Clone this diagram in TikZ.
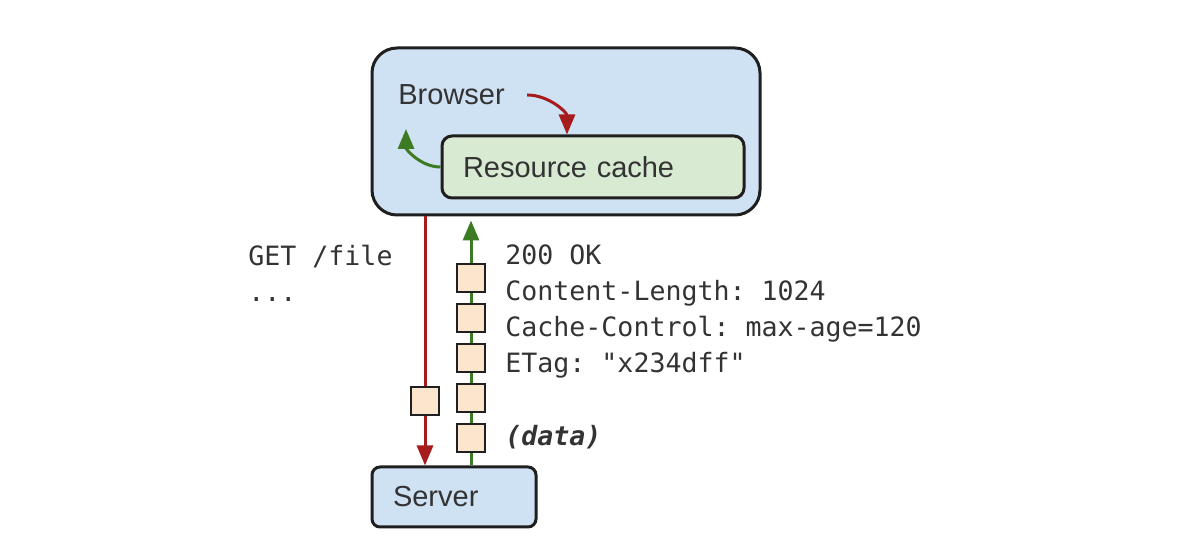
\documentclass[tikz,border=0pt]{standalone}
\usepackage{fontspec}
\setmainfont{Liberation Sans}
\setmonofont{DejaVu Sans Mono}
\usetikzlibrary{arrows.meta,positioning}
\definecolor{boxblue}{HTML}{CFE2F3}
\definecolor{boxgreen}{HTML}{D9EAD3}
\definecolor{pktfill}{HTML}{FCE5CD}
\definecolor{edge}{HTML}{1F1F1F}
\definecolor{reqred}{HTML}{A61C1C}
\definecolor{resgreen}{HTML}{3C7A24}
\definecolor{hdrtext}{HTML}{333333}

\begin{document}
\begin{tikzpicture}[x=0.5pt,y=-0.5pt,
  box/.style={draw=edge,line width=1.5pt,inner sep=0pt},
  label/.style={font=\fontsize{14.5}{17}\selectfont,text=hdrtext},
  hdr/.style={anchor=base west,inner sep=0pt,text=hdrtext,font=\ttfamily\fontsize{13.3}{16}\selectfont},
  packet/.style={draw=edge,fill=pktfill,line width=1.2pt,minimum size=14pt,inner sep=0pt},
  reqarrow/.style={draw=reqred,line width=1.5pt,-{Triangle[length=10pt,width=8pt]}},
  resarrow/.style={draw=resgreen,line width=1.5pt,-{Triangle[length=10pt,width=8pt]}}]
\useasboundingbox (0,0) rectangle (1200,560);

% boxes
\node[box,fill=boxblue,rounded corners=12.5pt,minimum width=194pt,minimum height=83.5pt] (browser) at (566,131.5) {};
\node[label,anchor=west,inner sep=0pt] (blabel) at (398,95) {Browser};
\node[box,fill=boxgreen,rounded corners=5pt,minimum height=31pt,text width=130pt,align=left,inner xsep=10.5pt,label] (cache) at (593,167) {Resource cache};
\node[box,fill=boxblue,rounded corners=4pt,minimum height=30pt,text width=61pt,align=left,inner xsep=10.5pt,label] (server) at (454,497) {Server};

% cache lookups
\draw[reqarrow] ([xshift=11pt]blabel.east) to[out=0,in=90] (cache.north -| 567,0);
\draw[resarrow] (cache.west) to[out=180,in=-90] (406,129);

% request and response
\coordinate (req) at (425,0);
\coordinate (res) at (471,0);
\draw[reqarrow] (req |- browser.south) -- (req |- server.north);
\draw[resarrow] (res |- server.north) -- ([yshift=-2pt]res |- browser.south);
\node[packet] (q1) at (425,401) {};
\foreach \y [count=\i] in {278,318,358,398,438}
  \node[packet] (r\i) at (471,\y) {};

% messages
\node[hdr] (get) at (248,266) {GET /file};
\node[hdr] (dots) at (248,302) {...};
\node[hdr] (status) at (505,265) {200 OK};
\node[hdr] (len) at (505,301) {Content-Length: 1024};
\node[hdr] (cc) at (505,337) {Cache-Control: max-age=120};
\node[hdr] (etag) at (505,373) {ETag: "x234dff"};
\node[hdr,font=\ttfamily\bfseries\itshape\fontsize{13.3}{16}\selectfont] (data) at (505,446) {(data)};
\end{tikzpicture}
\end{document}
